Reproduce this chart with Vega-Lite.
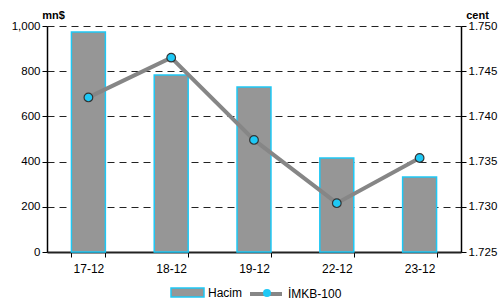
{
  "$schema": "https://vega.github.io/schema/vega-lite/v6.json",
  "width": 414,
  "height": 226,
  "autosize": {"type": "none"},
  "padding": {"left": 47, "top": 26, "right": 42, "bottom": 50},
  "background": "white",
  "config": {
    "font": "Liberation Sans",
    "view": {"stroke": null},
    "axis": {"labelFont": "Liberation Sans", "labelFontSize": 11.5, "labelColor": "#000", "titleFont": "Liberation Sans", "titleFontSize": 11, "titleFontWeight": "bold", "titleColor": "#000"}
  },
  "data": {"values": [
    {"d": "17-12", "hacim": 973, "imkb": 1.7421},
    {"d": "18-12", "hacim": 783, "imkb": 1.7465},
    {"d": "19-12", "hacim": 730, "imkb": 1.7374},
    {"d": "22-12", "hacim": 416, "imkb": 1.7304},
    {"d": "23-12", "hacim": 332, "imkb": 1.7354}
  ]},
  "encoding": {
    "x": {"field": "d", "type": "nominal", "sort": null,
      "scale": {"paddingInner": 0.59, "paddingOuter": 0.295},
      "axis": {"title": null, "labelAngle": 0, "labelFontSize": 12, "tickBand": "extent", "tickSize": 5, "tickColor": "#000", "domainColor": "#222", "domainWidth": 2, "labelPadding": 6, "grid": false}}
  },
  "layer": [
    {
      "mark": {"type": "bar", "stroke": "#1ec8f5", "strokeWidth": 1.5},
      "encoding": {
        "y": {"field": "hacim", "type": "quantitative",
          "scale": {"domain": [0, 1000], "nice": false},
          "axis": {"title": "mn$", "values": [0, 200, 400, 600, 800, 1000], "format": ",.0f", "tickSize": 5, "tickColor": "#000", "domainColor": "#000", "domainWidth": 1.5,
            "grid": true, "gridColor": "#222", "gridDash": [7, 5], "gridWidth": 1,
            "titleAngle": 0, "titleX": 6, "titleY": -8, "titleAlign": "center", "titleBaseline": "alphabetic"}},
        "fill": {"datum": "Hacim", "type": "nominal",
          "scale": {"domain": ["Hacim"], "range": ["#969696"]},
          "legend": {"title": null, "orient": "none", "legendX": 123, "legendY": 249, "padding": 0,
            "symbolType": "M-1,-0.27H1V0.27H-1Z", "symbolSize": 1089, "symbolStrokeColor": "#1ec8f5", "symbolStrokeWidth": 1.5,
            "labelOffset": 3, "labelFontSize": 12, "labelFont": "Liberation Sans", "labelColor": "#000"}}
      }
    },
    {
      "mark": {"type": "line", "strokeWidth": 4},
      "encoding": {
        "y": {"field": "imkb", "type": "quantitative",
          "scale": {"domain": [1.725, 1.75], "nice": false, "zero": false},
          "axis": {"orient": "right", "title": "cent", "values": [1.725, 1.73, 1.735, 1.74, 1.745, 1.75], "format": ".3f", "tickSize": 5, "tickColor": "#000", "domainColor": "#000", "domainWidth": 1.5, "grid": false,
            "titleAngle": 0, "titleX": 16, "titleY": -8, "titleAlign": "center", "titleBaseline": "alphabetic"}},
        "stroke": {"datum": "İMKB-100", "type": "nominal",
          "scale": {"domain": ["İMKB-100"], "range": ["#868686"]},
          "legend": {"title": null, "orient": "none", "legendX": 201, "legendY": 250, "padding": 0,
            "symbolType": "stroke", "symbolSize": 1024, "symbolStrokeWidth": 4,
            "labelOffset": 4, "labelFontSize": 12, "labelFont": "Liberation Sans", "labelColor": "#000"}}
      }
    },
    {
      "mark": {"type": "point", "filled": true, "fill": "#1ec8f5", "stroke": "#333", "strokeWidth": 1.2, "opacity": 1, "size": 75},
      "encoding": {
        "y": {"field": "imkb", "type": "quantitative", "scale": {"domain": [1.725, 1.75], "nice": false, "zero": false}, "axis": null},
        "shape": {"datum": "pt", "type": "nominal",
          "scale": {"domain": ["pt"], "range": ["circle"]},
          "legend": {"title": null, "orient": "none", "legendX": 215, "legendY": 262, "padding": 0,
            "symbolSize": 64, "symbolFillColor": "#1ec8f5", "symbolStrokeColor": "#333", "symbolStrokeWidth": 1.2, "symbolOpacity": 1,
            "labelExpr": "''", "labelOffset": 0}}
      }
    }
  ],
  "resolve": {"scale": {"y": "independent"}}
}
